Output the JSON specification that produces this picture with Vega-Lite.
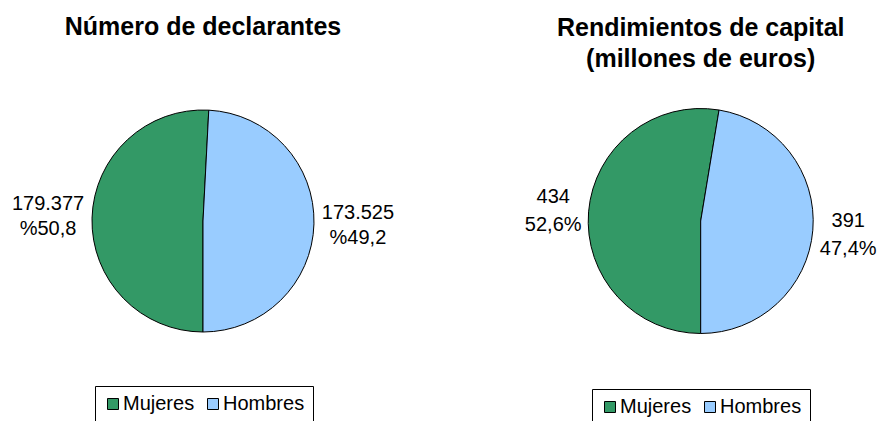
{
  "$schema": "https://vega.github.io/schema/vega-lite/v6.json",
  "padding": {"left": 0, "top": 15, "right": 0, "bottom": 0},
  "spacing": 113.4,
  "bounds": "flush",
  "background": "white",
  "config": {
    "view": {"stroke": null},
    "font": "Liberation Sans",
    "title": {"font": "Liberation Sans", "fontSize": 25, "fontWeight": "bold", "color": "black", "anchor": "middle"}
  },
  "resolve": {"scale": {"color": "independent", "theta": "independent"}, "legend": {"color": "independent"}},
  "hconcat": [
    {
      "width": 406,
      "height": 242,
      "title": {"text": "Número de declarantes", "offset": 60},
      "data": {"values": [
        {"sexo": "Mujeres", "valor": 179377, "orden": 1, "etiqueta": "179.377\n%50,8"},
        {"sexo": "Hombres", "valor": 173525, "orden": 2, "etiqueta": "173.525\n%49,2"}
      ]},
      "layer": [
        {
          "mark": {"type": "arc", "outerRadius": 111, "stroke": "black", "strokeWidth": 1},
          "encoding": {
            "theta": {"field": "valor", "type": "quantitative", "stack": true, "scale": {"range": [3.14159265, 9.42477796]}},
            "order": {"field": "orden", "type": "quantitative"},
            "color": {
              "field": "sexo", "type": "nominal",
              "scale": {"domain": ["Mujeres", "Hombres"], "range": ["#339966", "#99CCFF"]},
              "legend": {
                "title": null, "orient": "none", "direction": "horizontal",
                "legendX": 95, "legendY": 286,
                "strokeColor": "black", "fillColor": "white", "padding": 8,
                "symbolType": "square", "symbolSize": 121, "symbolStrokeColor": "black", "symbolStrokeWidth": 1,
                "labelFont": "Liberation Sans", "labelFontSize": 20, "labelColor": "black",
                "labelOffset": 0, "columnPadding": 8
              }
            }
          }
        },
        {
          "mark": {"type": "text", "radius": 155, "dy": -12.5, "fontSize": 20, "font": "Liberation Sans", "color": "black", "lineBreak": "\n", "lineHeight": 25, "align": "center", "baseline": "middle"},
          "encoding": {
            "theta": {"field": "valor", "type": "quantitative", "stack": true, "scale": {"range": [3.14159265, 9.42477796]}},
            "order": {"field": "orden", "type": "quantitative"},
            "text": {"field": "etiqueta", "type": "nominal"}
          }
        }
      ]
    },
    {
      "width": 362.6,
      "height": 242,
      "title": {"text": ["Rendimientos de capital", "(millones de euros)"], "offset": 28, "lineHeight": 31},
      "data": {"values": [
        {"sexo": "Mujeres", "valor": 434, "orden": 1, "etiqueta": "434\n52,6%"},
        {"sexo": "Hombres", "valor": 391, "orden": 2, "etiqueta": "391\n47,4%"}
      ]},
      "layer": [
        {
          "mark": {"type": "arc", "outerRadius": 112.5, "stroke": "black", "strokeWidth": 1},
          "encoding": {
            "theta": {"field": "valor", "type": "quantitative", "stack": true, "scale": {"range": [3.14159265, 9.42477796]}},
            "order": {"field": "orden", "type": "quantitative"},
            "color": {
              "field": "sexo", "type": "nominal",
              "scale": {"domain": ["Mujeres", "Hombres"], "range": ["#339966", "#99CCFF"]},
              "legend": {
                "title": null, "orient": "none", "direction": "horizontal",
                "legendX": 72.6, "legendY": 289,
                "strokeColor": "black", "fillColor": "white", "padding": 8,
                "symbolType": "square", "symbolSize": 121, "symbolStrokeColor": "black", "symbolStrokeWidth": 1,
                "labelFont": "Liberation Sans", "labelFontSize": 20, "labelColor": "black",
                "labelOffset": 0, "columnPadding": 8
              }
            }
          }
        },
        {
          "mark": {"type": "text", "radius": 148, "dy": -12, "fontSize": 20, "font": "Liberation Sans", "color": "black", "lineBreak": "\n", "lineHeight": 28, "align": "center", "baseline": "middle"},
          "encoding": {
            "theta": {"field": "valor", "type": "quantitative", "stack": true, "scale": {"range": [3.14159265, 9.42477796]}},
            "order": {"field": "orden", "type": "quantitative"},
            "text": {"field": "etiqueta", "type": "nominal"}
          }
        }
      ]
    }
  ]
}
